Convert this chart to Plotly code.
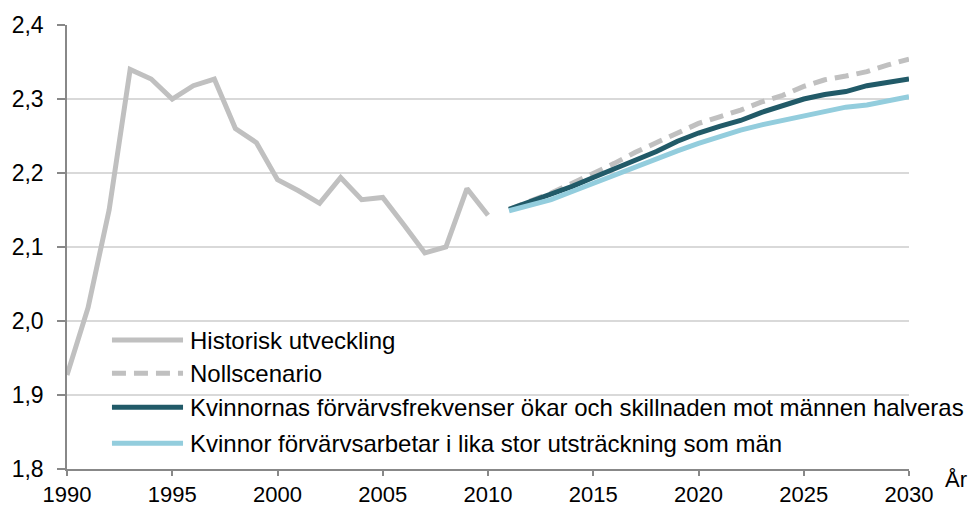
import plotly.graph_objects as go

# ---- data ----
hist_years = list(range(1990, 2011))
hist_values = [1.927, 2.018, 2.150, 2.340, 2.327, 2.300, 2.318, 2.327, 2.260, 2.241,
               2.191, 2.176, 2.159, 2.194, 2.164, 2.167, 2.130, 2.092, 2.100, 2.179, 2.143]

proj_years = list(range(2011, 2031))
noll_values = [2.151, 2.162, 2.173, 2.186, 2.199, 2.213, 2.228, 2.241, 2.254, 2.267,
               2.276, 2.285, 2.296, 2.305, 2.317, 2.326, 2.331, 2.337, 2.346, 2.354]
halv_values = [2.151, 2.161, 2.171, 2.182, 2.194, 2.206, 2.218, 2.229, 2.243, 2.254,
               2.263, 2.271, 2.282, 2.291, 2.300, 2.306, 2.310, 2.318, 2.322, 2.327]
lika_values = [2.149, 2.156, 2.164, 2.175, 2.186, 2.197, 2.208, 2.220, 2.230, 2.240,
               2.249, 2.258, 2.265, 2.271, 2.278, 2.284, 2.289, 2.292, 2.298, 2.303]

series_names = ["Historisk utveckling", "Nollscenario",
                "Kvinnornas förvärvsfrekvenser ökar och skillnaden mot männen halveras",
                "Kvinnor förvärvsarbetar i lika stor utsträckning som män"]
series_colors = ["#c0c0c0", "#c0c0c0", "#215a68", "#93cddd"]
series_dash = ["solid", "14px,8px", "solid", "solid"]

x_ticks = [1990, 1995, 2000, 2005, 2010, 2015, 2020, 2025, 2030]
y_ticks = [1.8, 1.9, 2.0, 2.1, 2.2, 2.3, 2.4]
x_title = "År"

fig = go.Figure()
xs = [hist_years, proj_years, proj_years, proj_years]
ys = [hist_values, noll_values, halv_values, lika_values]
for x, y, n, c, d in zip(xs, ys, series_names, series_colors, series_dash):
    fig.add_trace(go.Scatter(x=x, y=y, name=n, mode="lines",
                             line=dict(color=c, width=5, dash=d),
                             showlegend=False))

# manual legend (long line samples as in the original)
leg_y = [0.2905, 0.2155, 0.139, 0.0579]
shapes = []
annotations = []
for yy, n, c, d in zip(leg_y, series_names, series_colors, series_dash):
    shapes.append(dict(type="line", xref="paper", yref="paper",
                       x0=0.0534, x1=0.1378, y0=yy, y1=yy,
                       line=dict(color=c, width=5, dash=d)))
    annotations.append(dict(text=n, xref="paper", yref="paper", x=0.1437, y=yy,
                            xanchor="left", yanchor="middle", showarrow=False,
                            font=dict(size=24, color="#000000")))
annotations.append(dict(text=x_title, xref="paper", yref="paper", x=1.0555, y=-0.024,
                        xanchor="center", yanchor="middle", showarrow=False,
                        font=dict(size=22, color="#000000")))

fig.update_layout(
    width=976, height=506,
    margin=dict(l=67, r=67, t=25, b=37),
    paper_bgcolor="white", plot_bgcolor="white",
    separators=", ",
    font=dict(family="Liberation Sans, Arial, sans-serif", color="#000000"),
    shapes=shapes, annotations=annotations,
    xaxis=dict(range=[1990, 2030], tickvals=x_ticks, showgrid=False,
               showline=True, linecolor="#888888", linewidth=1.5,
               ticks="outside", ticklen=5, tickcolor="#888888", tickwidth=1.5,
               tickfont=dict(size=22), automargin=False, zeroline=False),
    yaxis=dict(range=[1.8, 2.4], tickvals=y_ticks, tickformat=".1f",
               showgrid=True, gridcolor="#d9d9d9", gridwidth=1.5,
               showline=True, linecolor="#888888", linewidth=1.5,
               ticks="outside", ticklen=8, tickcolor="#888888", tickwidth=1.5,
               ticklabelstandoff=9,
               tickfont=dict(size=23), automargin=False, zeroline=False),
)

fig.write_html("out.html", config={"displayModeBar": False},
               post_script="document.body.style.margin='0';document.body.style.overflow='hidden';")
